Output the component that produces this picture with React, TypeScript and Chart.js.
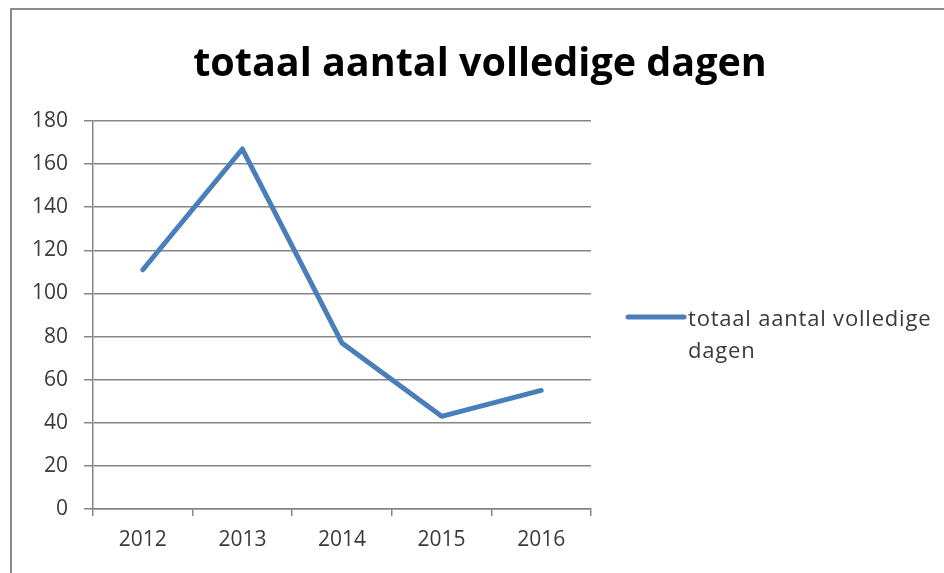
import React, { useEffect, useRef } from "react";
import { Chart, registerables } from "chart.js";

Chart.register(...registerables);

const titleText = "totaal aantal volledige dagen";
const seriesName = "totaal aantal volledige dagen";
const legendLines = ["totaal aantal volledige", "dagen"];
const categories = ["2012", "2013", "2014", "2015", "2016"];
const values = [111, 167, 77, 43, 55];
const yMin = 0;
const yMax = 180;
const yStep = 20;

const FONT = '"Open Sans", "DejaVu Sans", sans-serif';
const LINE_COLOR = "#4a7ebb";
const GRID_COLOR = "#868686";
const TEXT_COLOR = "#3a3a3a";

const overlayPlugin = {
  id: "overlayTitleLegend",
  afterDraw(chart: any) {
    const { ctx, chartArea } = chart;
    ctx.save();
    // title
    ctx.fillStyle = "#000000";
    ctx.font = `bold 39.5px ${FONT}`;
    ctx.textAlign = "center";
    ctx.textBaseline = "alphabetic";
    ctx.fillText(titleText, 480, 76);
    // legend
    const lx = chartArea.right + 37;
    const ly = 317;
    ctx.strokeStyle = LINE_COLOR;
    ctx.lineWidth = 5;
    ctx.lineCap = "round";
    ctx.beginPath();
    ctx.moveTo(lx, ly);
    ctx.lineTo(lx + 56, ly);
    ctx.stroke();
    ctx.fillStyle = TEXT_COLOR;
    ctx.font = `22px ${FONT}`;
    try {
      (ctx as any).letterSpacing = "0.8px";
    } catch (e) {}
    ctx.textAlign = "left";
    legendLines.forEach((t, i) => {
      ctx.fillText(t, lx + 60, 326 + i * 32);
    });
    ctx.restore();
  },
};

export default function App() {
  const ref = useRef<HTMLCanvasElement>(null);
  useEffect(() => {
    if (!ref.current) return;
    const chart = new Chart(ref.current, {
      type: "line",
      data: {
        labels: categories,
        datasets: [
          {
            label: seriesName,
            data: values,
            borderColor: LINE_COLOR,
            backgroundColor: LINE_COLOR,
            borderWidth: 5,
            borderCapStyle: "round",
            borderJoinStyle: "round",
            pointRadius: 0,
            tension: 0,
          },
        ],
      },
      options: {
        animation: false,
        responsive: false,
        layout: { padding: { left: 0, right: 353, top: 121, bottom: 0 } },
        plugins: {
          legend: { display: false },
          title: { display: false },
          tooltip: { enabled: false },
        },
        scales: {
          x: {
            offset: true,
            grid: {
              offset: true,
              drawOnChartArea: false,
              drawTicks: true,
              tickLength: 7,
              color: GRID_COLOR,
              lineWidth: 1.5,
            },
            border: { display: true, color: GRID_COLOR, width: 1.5 },
            ticks: {
              color: TEXT_COLOR,
              font: { family: FONT, size: 21 },
              padding: 11,
              maxRotation: 0,
            },
            afterFit(scale: any) {
              scale.height = 64;
            },
          },
          y: {
            min: yMin,
            max: yMax,
            ticks: {
              stepSize: yStep,
              color: TEXT_COLOR,
              font: { family: FONT, size: 21 },
              padding: 16,
            },
            grid: {
              color: GRID_COLOR,
              lineWidth: 1.5,
              tickLength: 9,
            },
            border: { display: true, color: GRID_COLOR, width: 1.5 },
            afterFit(scale: any) {
              scale.width = 93;
            },
          },
        },
      },
      plugins: [overlayPlugin],
    });
    return () => chart.destroy();
  }, []);

  return (
    <div style={{ position: "fixed", left: 0, top: 0, width: 944, height: 573, background: "#fff" }}>
      <canvas ref={ref} width={944} height={573} style={{ position: "absolute", left: 0, top: 0 }} />
      <div
        style={{
          position: "absolute",
          left: 10,
          top: 8,
          width: 1000,
          height: 1000,
          borderTop: "2px solid #8a8a8a",
          borderLeft: "2px solid #8a8a8a",
          pointerEvents: "none",
        }}
      />
    </div>
  );
}
